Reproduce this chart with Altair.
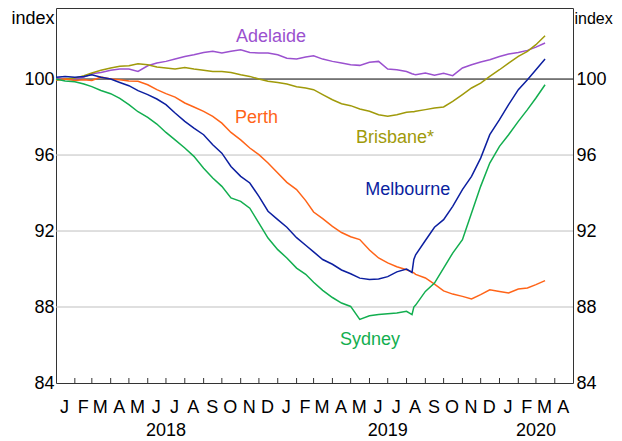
import altair as alt
import pandas as pd

DATES = [
    "2018-01-01", "2018-01-16", "2018-02-01", "2018-02-16", "2018-03-01", "2018-03-16",
    "2018-04-01", "2018-04-16", "2018-05-01", "2018-05-16", "2018-06-01", "2018-06-16",
    "2018-07-01", "2018-07-16", "2018-08-01", "2018-08-16", "2018-09-01", "2018-09-16",
    "2018-10-01", "2018-10-16", "2018-11-01", "2018-11-16", "2018-12-01", "2018-12-16",
    "2019-01-01", "2019-01-16", "2019-02-01", "2019-02-16", "2019-03-01", "2019-03-16",
    "2019-04-01", "2019-04-16", "2019-05-01", "2019-05-16", "2019-06-01", "2019-06-16",
    "2019-07-01", "2019-07-16", "2019-08-01", "2019-08-10", "2019-08-13", "2019-08-16",
    "2019-09-01", "2019-09-16", "2019-10-01", "2019-10-16", "2019-11-01", "2019-11-16",
    "2019-12-01", "2019-12-16", "2020-01-01", "2020-01-16", "2020-02-01", "2020-02-16",
    "2020-03-01", "2020-03-16",
]

SYDNEY = [
    100.0, 99.9, 99.86, 99.74, 99.6, 99.4, 99.23, 98.98, 98.65, 98.28, 97.98, 97.63,
    97.19, 96.8, 96.37, 95.93, 95.3, 94.79, 94.35, 93.74, 93.56, 93.2, 92.42, 91.63,
    91.02, 90.58, 90.05, 89.72, 89.3, 88.88, 88.5, 88.21, 88.03, 87.35, 87.54, 87.6,
    87.65, 87.68, 87.77, 87.6, 88.0, 88.1, 88.82, 89.26, 90.05, 90.84, 91.54, 92.95,
    94.35, 95.58, 96.46, 97.07, 97.77, 98.39, 99.0, 99.7,
]

MELBOURNE = [
    100.1, 100.14, 100.1, 100.14, 100.23, 100.1, 100.0, 99.82, 99.65, 99.39, 99.18, 98.95,
    98.65, 98.21, 97.77, 97.42, 97.07, 96.54, 96.1, 95.4, 94.88, 94.53, 93.82, 93.04,
    92.6, 92.2, 91.65, 91.25, 90.9, 90.5, 90.25, 89.95, 89.75, 89.52, 89.45, 89.48,
    89.6, 89.85, 90.0, 89.82, 90.5, 90.75, 91.5, 92.2, 92.6, 93.3, 94.18, 94.88,
    95.84, 97.07, 97.86, 98.65, 99.44, 99.96, 100.49, 101.05,
]

PERTH = [
    99.96, 100.0, 99.93, 99.96, 99.93, 100.1, 100.0, 99.96, 99.9, 99.88, 99.7, 99.44,
    99.23, 99.05, 98.74, 98.53, 98.3, 98.04, 97.68, 97.19, 96.8, 96.37, 96.02, 95.58,
    95.05, 94.56, 94.18, 93.6, 93.0, 92.65, 92.25, 91.92, 91.7, 91.55, 91.0, 90.58,
    90.32, 90.12, 89.96, 89.85, 89.8, 89.72, 89.53, 89.2, 88.85, 88.68, 88.56, 88.42,
    88.65, 88.91, 88.82, 88.74, 88.95, 89.0, 89.18, 89.39,
]

BRISBANE = [
    99.93, 100.0, 100.05, 100.18, 100.32, 100.46, 100.58, 100.67, 100.7, 100.81, 100.75, 100.63,
    100.58, 100.53, 100.61, 100.53, 100.46, 100.4, 100.4, 100.35, 100.23, 100.14, 100.0, 99.88,
    99.82, 99.74, 99.6, 99.53, 99.44, 99.18, 98.91, 98.7, 98.6, 98.42, 98.3, 98.12,
    98.04, 98.12, 98.25, 98.28, 98.28, 98.3, 98.39, 98.47, 98.53, 98.82, 99.18, 99.53,
    99.79, 100.14, 100.49, 100.84, 101.19, 101.46, 101.81, 102.28,
]

ADELAIDE = [
    100.05, 100.0, 100.0, 100.1, 100.28, 100.35, 100.46, 100.53, 100.53, 100.4, 100.7, 100.84,
    100.93, 101.05, 101.19, 101.28, 101.4, 101.46, 101.37, 101.46, 101.54, 101.4, 101.37, 101.37,
    101.28, 101.1, 101.05, 101.16, 101.23, 101.05, 100.93, 100.84, 100.75, 100.72, 100.88, 100.93,
    100.53, 100.49, 100.4, 100.28, 100.25, 100.23, 100.32, 100.2, 100.3, 100.18, 100.58, 100.75,
    100.9, 101.02, 101.19, 101.32, 101.4, 101.51, 101.68, 101.9,
]

CITIES = ["Adelaide", "Brisbane", "Perth", "Melbourne", "Sydney"]
COLORS = ["#9B51CF", "#A09A0A", "#FF6418", "#0C1FA0", "#12AE4F"]

LABEL_TEXT = ["Adelaide", "Perth", "Brisbane*", "Melbourne", "Sydney"]
LABEL_CITY = ["Adelaide", "Perth", "Brisbane", "Melbourne", "Sydney"]
LABEL_DATES = ["2018-12-21", "2018-11-27", "2019-07-13", "2019-08-03", "2019-06-02"]
LABEL_VALUES = [102.2, 97.95, 96.89, 94.16, 86.24]

GRID_VALUES = [88, 92, 96]
BASE_VALUE = [100]
Y_TICKS = [84, 88, 92, 96, 100]

MONTH_LETTERS = list("JFMAMJJASOND") * 2 + list("JFMA")
MONTH_MIDS = [f"{2018 + i // 12}-{i % 12 + 1:02d}-15" for i in range(28)]
TICK_DATES = [f"{2018 + i // 12}-{i % 12 + 1:02d}-01" for i in range(1, 28)]
YEAR_TEXT = ["2018", "2019", "2020"]
YEAR_DATES = ["2018-07-01", "2019-07-01", "2020-03-01"]

W, H = 517, 375
FONT = "Liberation Sans"

series_rows = []
for city, vals in zip(CITIES, [ADELAIDE, BRISBANE, PERTH, MELBOURNE, SYDNEY]):
    for d, v in zip(DATES, vals):
        series_rows.append({"date": d + "T00:00:00", "value": v, "city": city})
df = pd.DataFrame(series_rows)

labels_df = pd.DataFrame({
    "date": [d + "T00:00:00" for d in LABEL_DATES],
    "value": LABEL_VALUES,
    "text": LABEL_TEXT,
    "city": LABEL_CITY,
})
grid_df = pd.DataFrame({"value": GRID_VALUES})
base_df = pd.DataFrame({"value": BASE_VALUE})
months_df = pd.DataFrame({"date": [d + "T00:00:00" for d in MONTH_MIDS], "text": MONTH_LETTERS})
ticks_df = pd.DataFrame({"date": [d + "T00:00:00" for d in TICK_DATES]})
years_df = pd.DataFrame({"date": [d + "T00:00:00" for d in YEAR_DATES], "text": YEAR_TEXT})

xscale = alt.Scale(domain=[alt.DateTime(year=2018, month=1, date=1),
                           alt.DateTime(year=2020, month=5, date=1)])
yscale = alt.Scale(domain=[84, 103.74], nice=False, zero=False)
color_scale = alt.Scale(domain=CITIES, range=COLORS)


def yaxis(orient):
    left = orient == "left"
    return alt.Axis(
        orient=orient, values=Y_TICKS, grid=False, ticks=False, domain=False,
        labelFont=FONT, labelFontSize=18, labelColor="black",
        labelPadding=2 if left else 3,
        title="index", titleAngle=0, titleFont=FONT,
        titleFontSize=18 if left else 16,
        titleFontWeight="normal", titleColor="black",
        titleAlign="right" if left else "left", titleBaseline="middle",
        titleX=-2 if left else 1, titleY=10,
    )


grid = alt.Chart(grid_df).mark_rule(color="#BFBFBF", strokeWidth=1).encode(
    y=alt.Y("value:Q", scale=yscale, axis=yaxis("left")),
)
base = alt.Chart(base_df).mark_rule(color="black", strokeWidth=1).encode(
    y=alt.Y("value:Q", scale=yscale, axis=yaxis("right")),
)

lines = alt.Chart(df).mark_line(strokeWidth=1.5).encode(
    x=alt.X("date:T", scale=xscale, axis=None),
    y=alt.Y("value:Q", scale=yscale, axis=None),
    color=alt.Color("city:N", scale=color_scale, legend=None),
    detail="city:N",
)

labels = alt.Chart(labels_df).mark_text(font=FONT, fontSize=18, baseline="middle", align="center").encode(
    x=alt.X("date:T", scale=xscale, axis=None),
    y=alt.Y("value:Q", scale=yscale, axis=None),
    text="text:N",
    color=alt.Color("city:N", scale=color_scale, legend=None),
)

ticks = alt.Chart(ticks_df).mark_rule(color="#333333", strokeWidth=1).encode(
    x=alt.X("date:T", scale=xscale, axis=None),
    y=alt.value(H),
    y2=alt.value(H - 5),
)

months = alt.Chart(months_df).mark_text(font=FONT, fontSize=18, baseline="middle", align="center", color="black").encode(
    x=alt.X("date:T", scale=xscale, axis=None),
    y=alt.value(H + 25),
    text="text:N",
)

years = alt.Chart(years_df).mark_text(font=FONT, fontSize=18, baseline="middle", align="center", color="black").encode(
    x=alt.X("date:T", scale=xscale, axis=None),
    y=alt.value(H + 48),
    text="text:N",
)

chart = alt.layer(grid, base, lines, labels, ticks, months, years).resolve_axis(
    y="independent"
).properties(
    width=W, height=H,
    padding={"left": 48, "top": 0, "right": 41, "bottom": 57},
    autosize=alt.AutoSizeParams(type="none"),
).configure_view(stroke="#333333", strokeWidth=1)

chart.save("out.html", embed_options={"renderer": "svg", "actions": False})
